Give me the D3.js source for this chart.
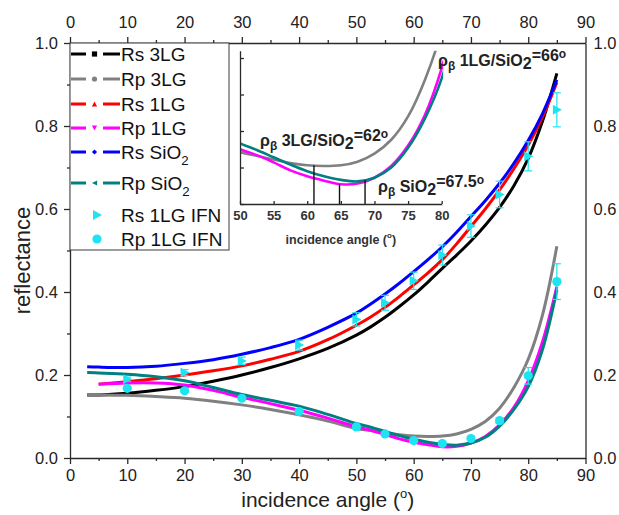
<!DOCTYPE html>
<html><head><meta charset="utf-8">
<script src="https://cdn.jsdelivr.net/npm/d3@7"></script>
<style>
body{margin:0;background:#fff}
text{font-family:"Liberation Sans",Arial,Helvetica,sans-serif}
</style>
</head><body>
<svg id="c" width="619" height="515"></svg>
<script>
// ---------- data ----------
const angles   = [3, 5, 10, 15, 20, 25, 30, 35, 40, 45, 50, 52.5, 55, 57.5, 60, 62.5, 65, 67.5, 70, 72.5, 75, 77.5, 80, 82.5, 85];
const rs3LG    = [0.152,0.152,0.156,0.163,0.172,0.185,0.200,0.218,0.239,0.264,0.296,0.316,0.339,0.365,0.393,0.424,0.457,0.489,0.523,0.561,0.604,0.656,0.722,0.812,0.927];
const rp3LG    = [0.152,0.152,0.151,0.148,0.144,0.137,0.128,0.117,0.104,0.089,0.071,0.066,0.061,0.056,0.053,0.052,0.053,0.058,0.069,0.088,0.120,0.170,0.238,0.345,0.510];
const rs1LG    = [null,0.178,0.184,0.191,0.200,0.210,0.222,0.238,0.257,0.285,0.320,0.340,0.363,0.389,0.417,0.446,0.478,0.516,0.558,0.600,0.646,0.697,0.754,0.822,0.905];
const rp1LG    = [null,0.178,0.181,0.181,0.176,0.163,0.146,0.131,0.115,0.096,0.075,0.067,0.057,0.046,0.038,0.032,0.027,0.028,0.036,0.052,0.080,0.122,0.186,0.280,0.413];
const rsSiO2   = [0.220,0.219,0.218,0.221,0.228,0.237,0.250,0.266,0.286,0.315,0.349,0.371,0.395,0.421,0.449,0.478,0.509,0.544,0.582,0.620,0.662,0.710,0.765,0.830,0.911];
const rpSiO2   = [0.206,0.205,0.202,0.196,0.186,0.170,0.153,0.139,0.125,0.105,0.083,0.074,0.064,0.054,0.045,0.038,0.033,0.031,0.036,0.050,0.077,0.117,0.172,0.262,0.405];

const ifnAngles = [10, 20, 30, 40, 50, 55, 60, 65, 70, 75, 80, 85];
const rsIFN     = [0.190,0.206,0.234,0.272,0.334,0.374,0.427,0.489,0.559,0.635,0.727,0.839];
const rsIFNerr  = [0.005,0.007,0.009,0.012,0.016,0.018,0.021,0.024,0.027,0.032,0.035,0.041];
const rpIFN     = [0.168,0.162,0.144,0.112,0.075,0.058,0.042,0.035,0.047,0.090,0.198,0.425];
const rpIFNerr  = [0.004,0.004,0.004,0.004,0.004,0.004,0.004,0.004,0.004,0.007,0.020,0.043];

const xTicks = [0,10,20,30,40,50,60,70,80,90];
const xMinor = [5,15,25,35,45,55,65,75,85];
const yTicks = [0,0.2,0.4,0.6,0.8,1.0];
const yMinor = [0.1,0.3,0.5,0.7,0.9];

const insetXTicks = [50,55,60,65,70,75,80];
const insetYTicks = [0,0.05,0.10,0.15,0.20];
const brewsterAngles = [61, 64.8, 68.6];      // drop lines in inset
const brewsterValues = [0.053, 0.027, 0.033];

const seriesNames = ["Rs 3LG","Rp 3LG","Rs 1LG","Rp 1LG","Rs SiO2","Rp SiO2"];
const seriesVals  = [rs3LG, rp3LG, rs1LG, rp1LG, rsSiO2, rpSiO2];
const seriesCol   = ["#000000","#808080","#ff0000","#ff00ff","#0000ff","#008080"];
const markerShape = ["square","circle","triUp","triDown","diamond","triLeft"];
const CYAN = "#1ee3f0";

// ---------- layout ----------
const svg = d3.select("#c");
const FONT = '"Liberation Sans",Arial,Helvetica,sans-serif';
const x = d3.scaleLinear().domain([0,90]).range([70,585.5]);
const y = d3.scaleLinear().domain([0,1]).range([458,43]);

function styleAxis(g, fs){
  g.selectAll("path,line").attr("stroke","#2a2a2a").attr("stroke-width",1.3);
  g.selectAll("text").attr("font-size",fs||16.5).attr("fill","#222").attr("font-family",FONT);
}
// bottom
svg.append("g").attr("transform","translate(0,458)")
  .call(d3.axisBottom(x).tickValues(xTicks).tickSize(6).tickSizeOuter(0).tickPadding(5)).call(styleAxis);
svg.append("g").attr("transform","translate(0,458)")
  .call(d3.axisBottom(x).tickValues(xMinor).tickSize(3).tickFormat("")).call(g=>g.select(".domain").remove()).call(styleAxis);
// top
svg.append("g").attr("transform","translate(0,43)")
  .call(d3.axisTop(x).tickValues(xTicks).tickSize(6).tickSizeOuter(0).tickPadding(9)).call(styleAxis);
svg.append("g").attr("transform","translate(0,43)")
  .call(d3.axisTop(x).tickValues(xMinor).tickSize(3).tickFormat("")).call(g=>g.select(".domain").remove()).call(styleAxis);
// left
svg.append("g").attr("transform","translate(70,0)")
  .call(d3.axisLeft(y).tickValues(yTicks).tickSize(6).tickSizeOuter(0).tickPadding(6).tickFormat(d3.format(".1f"))).call(styleAxis);
svg.append("g").attr("transform","translate(70,0)")
  .call(d3.axisLeft(y).tickValues(yMinor).tickSize(3).tickFormat("")).call(g=>g.select(".domain").remove()).call(styleAxis);
// right
svg.append("g").attr("transform","translate(585.5,0)")
  .call(d3.axisRight(y).tickValues(yTicks).tickSize(0).tickSizeOuter(0).tickPadding(8).tickFormat(d3.format(".1f"))).call(styleAxis);

// axis titles
const xt = svg.append("text").attr("x",(x(0)+x(90))/2).attr("y",507).attr("text-anchor","middle")
  .attr("font-size",21).attr("fill","#222");
xt.append("tspan").text("incidence angle (");
xt.append("tspan").attr("font-size",13).attr("dy",-9).text("o");
xt.append("tspan").attr("dy",9).text(")");
svg.append("text").attr("transform","translate(30,"+((y(0)+y(1))/2+10)+") rotate(-90)")
  .attr("text-anchor","middle").attr("font-size",22).attr("fill","#222").text("reflectance");

// ---------- curves ----------
const line = d3.line().defined(d=>d[1]!=null).curve(d3.curveCatmullRom.alpha(0.5))
  .x(d=>x(d[0])).y(d=>y(d[1]));
seriesVals.forEach((vals,i)=>{
  svg.append("path").datum(angles.map((a,j)=>[a,vals[j]]))
    .attr("d",line).attr("fill","none").attr("stroke",seriesCol[i]).attr("stroke-width",3);
});

// ---------- IFN points ----------
function errBars(vals, errs){
  const g = svg.append("g").attr("stroke",CYAN).attr("stroke-width",1.2);
  ifnAngles.forEach((a,i)=>{
    const cx=x(a), t=y(vals[i]+errs[i]), b=y(vals[i]-errs[i]);
    g.append("line").attr("x1",cx).attr("x2",cx).attr("y1",t).attr("y2",b);
    g.append("line").attr("x1",cx-4).attr("x2",cx+4).attr("y1",t).attr("y2",t);
    g.append("line").attr("x1",cx-4).attr("x2",cx+4).attr("y1",b).attr("y2",b);
  });
}
errBars(rsIFN, rsIFNerr);
errBars(rpIFN, rpIFNerr);
const triRight = (cx,cy,s)=>`M${cx-s*0.8},${cy-s} L${cx+s},${cy} L${cx-s*0.8},${cy+s} Z`;
svg.append("g").selectAll("path").data(ifnAngles).join("path")
  .attr("d",(a,i)=>triRight(x(a),y(rsIFN[i]),5)).attr("fill",CYAN);
svg.append("g").selectAll("circle").data(ifnAngles).join("circle")
  .attr("cx",a=>x(a)).attr("cy",(a,i)=>y(rpIFN[i])).attr("r",4.6).attr("fill",CYAN);

// ---------- legend ----------
const lg = svg.append("g");
lg.append("rect").attr("x",70).attr("y",43).attr("width",159).attr("height",207)
  .attr("fill","#fff").attr("stroke","#3a3a3a").attr("stroke-width",1);
const rowY = [54,79,104,128,152,183,215,239];
function labelText(g, xx, yy, name, fs){
  const t = g.append("text").attr("x",xx).attr("y",yy).attr("font-size",fs).attr("fill","#111");
  if(name.endsWith("SiO2")){
    t.append("tspan").text(name.slice(0,-1));
    t.append("tspan").attr("font-size",fs*0.7).attr("dy",6).text("2");
  } else t.text(name);
  return t;
}
function marker(g, shape, cx, cy, col){
  const s=2.6;
  let d;
  if(shape==="square") d=`M${cx-s},${cy-s}h${2*s}v${2*s}h${-2*s}Z`;
  else if(shape==="circle") { g.append("circle").attr("cx",cx).attr("cy",cy).attr("r",s).attr("fill",col); return; }
  else if(shape==="triUp") d=`M${cx-s},${cy+s}L${cx},${cy-s}L${cx+s},${cy+s}Z`;
  else if(shape==="triDown") d=`M${cx-s},${cy-s}L${cx},${cy+s}L${cx+s},${cy-s}Z`;
  else if(shape==="diamond") d=`M${cx-s},${cy}L${cx},${cy-s}L${cx+s},${cy}L${cx},${cy+s}Z`;
  else d=`M${cx+s},${cy-s}L${cx-s},${cy}L${cx+s},${cy+s}Z`;
  g.append("path").attr("d",d).attr("fill",col);
}
seriesNames.forEach((n,i)=>{
  const yy=rowY[i];
  lg.append("line").attr("x1",71).attr("x2",86).attr("y1",yy).attr("y2",yy).attr("stroke",seriesCol[i]).attr("stroke-width",3);
  lg.append("line").attr("x1",103).attr("x2",120).attr("y1",yy).attr("y2",yy).attr("stroke",seriesCol[i]).attr("stroke-width",3);
  marker(lg, markerShape[i], 94.5, yy, seriesCol[i]);
  labelText(lg, 121, yy+6.8, n, 19);
});
lg.append("path").attr("d",triRight(97,rowY[6],5)).attr("fill",CYAN);
labelText(lg,121,rowY[6]+6.8,"Rs 1LG IFN",19);
lg.append("circle").attr("cx",97).attr("cy",rowY[7]).attr("r",4.6).attr("fill",CYAN);
labelText(lg,121,rowY[7]+6.8,"Rp 1LG IFN",19);

// ---------- inset ----------
const ix = d3.scaleLinear().domain([50,80]).range([240,441.7]);
const iy = d3.scaleLinear().domain([0,0.21]).range([204,204-0.21*730]);
const ins = svg.append("g");
svg.append("defs").append("clipPath").attr("id","iclip").append("rect")
  .attr("x",ix(50)).attr("y",iy(0.21)).attr("width",ix(80)-ix(50)+1.5).attr("height",iy(0)-iy(0.21));
const iline = d3.line().defined(d=>d[1]!=null).curve(d3.curveCatmullRom.alpha(0.5))
  .x(d=>ix(d[0])).y(d=>iy(d[1]));
const insetIdx = [1,3,5]; // Rp curves
const ic = ins.append("g").attr("clip-path","url(#iclip)");
insetIdx.forEach(i=>{
  ic.append("path").datum(angles.map((a,j)=>[a,seriesVals[i][j]]))
    .attr("d",iline).attr("fill","none").attr("stroke",seriesCol[i]).attr("stroke-width",2.6);
});
// drop lines
brewsterAngles.forEach((a,i)=>{
  ins.append("line").attr("x1",ix(a)).attr("x2",ix(a)).attr("y1",iy(brewsterValues[i])).attr("y2",iy(0))
    .attr("stroke","#111").attr("stroke-width",1.4);
});
// inset axes
ins.append("g").attr("transform","translate(0,"+iy(0)+")")
  .call(d3.axisBottom(ix).tickValues(insetXTicks).tickSize(-3).tickSizeOuter(0).tickPadding(7))
  .call(g=>styleAxis(g,13))
  .call(g=>g.selectAll("text").attr("font-weight","bold").attr("fill","#333"));
ins.append("g").attr("transform","translate("+ix(50)+",0)")
  .call(d3.axisLeft(iy).tickValues(insetYTicks).tickSize(-4).tickSizeOuter(0).tickFormat(""))
  .call(g=>styleAxis(g,13));
const it = ins.append("text").attr("x",(ix(50)+ix(80))/2).attr("y",244).attr("text-anchor","middle")
  .attr("font-size",12.5).attr("font-weight","bold").attr("fill","#333");
it.append("tspan").text("incidence angle (");
it.append("tspan").attr("font-size",8).attr("dy",-6).text("o");
it.append("tspan").attr("dy",6).text(")");

// annotations
function brewsterLabel(xx, yy, mid, val){
  const t = svg.append("text").attr("x",xx).attr("y",yy).attr("font-size",16).attr("font-weight","bold").attr("fill","#222");
  t.append("tspan").text("ρ");
  t.append("tspan").attr("font-size",12).attr("dy",4).text("β");
  t.append("tspan").attr("dy",-4).text(" "+mid+"SiO");
  t.append("tspan").attr("font-size",16).attr("dy",3).text("2");
  t.append("tspan").attr("dy",-8).text("="+val);
  t.append("tspan").attr("font-size",12).attr("dy",-3).text("o");
}
brewsterLabel(438, 66, "1LG/", "66");
brewsterLabel(260, 146, "3LG/", "62");
brewsterLabel(378, 192, "", "67.5");
</script>
</body></html>
